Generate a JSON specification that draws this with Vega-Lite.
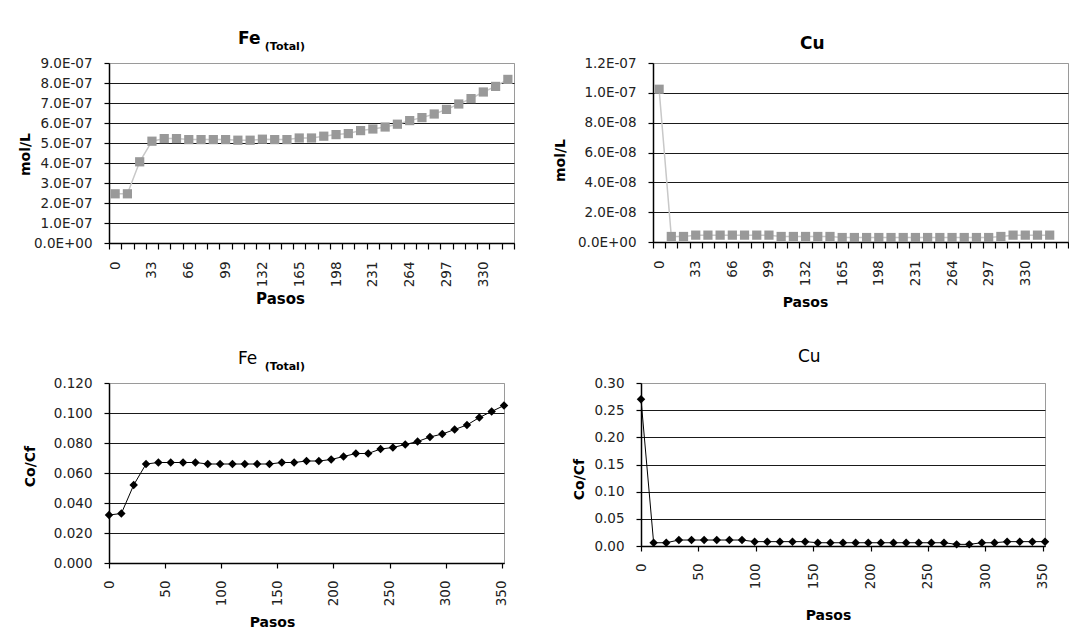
{
  "$schema": "https://vega.github.io/schema/vega-lite/v6.json",
  "padding": {"left": 17, "top": 29, "right": 0, "bottom": 0},
  "background": "white",
  "datasets": {
    "fe_mol": [
      {"paso": 0, "v": 2.46e-7}, {"paso": 11, "v": 2.46e-7}, {"paso": 22, "v": 4.06e-7}, {"paso": 33, "v": 5.09e-7},
      {"paso": 44, "v": 5.22e-7}, {"paso": 55, "v": 5.22e-7}, {"paso": 66, "v": 5.17e-7}, {"paso": 77, "v": 5.17e-7},
      {"paso": 88, "v": 5.17e-7}, {"paso": 99, "v": 5.17e-7}, {"paso": 110, "v": 5.14e-7}, {"paso": 121, "v": 5.14e-7},
      {"paso": 132, "v": 5.19e-7}, {"paso": 143, "v": 5.17e-7}, {"paso": 154, "v": 5.17e-7}, {"paso": 165, "v": 5.25e-7},
      {"paso": 176, "v": 5.25e-7}, {"paso": 187, "v": 5.34e-7}, {"paso": 198, "v": 5.42e-7}, {"paso": 209, "v": 5.47e-7},
      {"paso": 220, "v": 5.62e-7}, {"paso": 231, "v": 5.70e-7}, {"paso": 242, "v": 5.80e-7}, {"paso": 253, "v": 5.94e-7},
      {"paso": 264, "v": 6.12e-7}, {"paso": 275, "v": 6.27e-7}, {"paso": 286, "v": 6.45e-7}, {"paso": 297, "v": 6.68e-7},
      {"paso": 308, "v": 6.95e-7}, {"paso": 319, "v": 7.22e-7}, {"paso": 330, "v": 7.55e-7}, {"paso": 341, "v": 7.83e-7},
      {"paso": 352, "v": 8.18e-7}
    ],
    "cu_mol": [
      {"paso": 0, "v": 1.024e-7}, {"paso": 11, "v": 3.7e-9}, {"paso": 22, "v": 3.7e-9}, {"paso": 33, "v": 4.6e-9},
      {"paso": 44, "v": 4.6e-9}, {"paso": 55, "v": 4.6e-9}, {"paso": 66, "v": 4.6e-9}, {"paso": 77, "v": 4.6e-9},
      {"paso": 88, "v": 4.6e-9}, {"paso": 99, "v": 4.6e-9}, {"paso": 110, "v": 3.7e-9}, {"paso": 121, "v": 3.7e-9},
      {"paso": 132, "v": 3.7e-9}, {"paso": 143, "v": 3.7e-9}, {"paso": 154, "v": 3.7e-9}, {"paso": 165, "v": 3.0e-9},
      {"paso": 176, "v": 3.0e-9}, {"paso": 187, "v": 3.0e-9}, {"paso": 198, "v": 3.0e-9}, {"paso": 209, "v": 3.0e-9},
      {"paso": 220, "v": 3.0e-9}, {"paso": 231, "v": 3.0e-9}, {"paso": 242, "v": 3.0e-9}, {"paso": 253, "v": 3.0e-9},
      {"paso": 264, "v": 3.0e-9}, {"paso": 275, "v": 3.0e-9}, {"paso": 286, "v": 3.0e-9}, {"paso": 297, "v": 3.0e-9},
      {"paso": 308, "v": 3.7e-9}, {"paso": 319, "v": 4.6e-9}, {"paso": 330, "v": 4.6e-9}, {"paso": 341, "v": 4.6e-9},
      {"paso": 352, "v": 4.6e-9}
    ],
    "fe_cocf": [
      {"paso": 0, "v": 0.032}, {"paso": 11, "v": 0.033}, {"paso": 22, "v": 0.052}, {"paso": 33, "v": 0.066},
      {"paso": 44, "v": 0.067}, {"paso": 55, "v": 0.067}, {"paso": 66, "v": 0.067}, {"paso": 77, "v": 0.067},
      {"paso": 88, "v": 0.066}, {"paso": 99, "v": 0.066}, {"paso": 110, "v": 0.066}, {"paso": 121, "v": 0.066},
      {"paso": 132, "v": 0.066}, {"paso": 143, "v": 0.066}, {"paso": 154, "v": 0.067}, {"paso": 165, "v": 0.067},
      {"paso": 176, "v": 0.068}, {"paso": 187, "v": 0.068}, {"paso": 198, "v": 0.069}, {"paso": 209, "v": 0.071},
      {"paso": 220, "v": 0.073}, {"paso": 231, "v": 0.073}, {"paso": 242, "v": 0.076}, {"paso": 253, "v": 0.077},
      {"paso": 264, "v": 0.079}, {"paso": 275, "v": 0.081}, {"paso": 286, "v": 0.084}, {"paso": 297, "v": 0.086},
      {"paso": 308, "v": 0.089}, {"paso": 319, "v": 0.092}, {"paso": 330, "v": 0.097}, {"paso": 341, "v": 0.101},
      {"paso": 352, "v": 0.105}
    ],
    "cu_cocf": [
      {"paso": 0, "v": 0.27}, {"paso": 11, "v": 0.006}, {"paso": 22, "v": 0.006}, {"paso": 33, "v": 0.011},
      {"paso": 44, "v": 0.011}, {"paso": 55, "v": 0.011}, {"paso": 66, "v": 0.011}, {"paso": 77, "v": 0.011},
      {"paso": 88, "v": 0.011}, {"paso": 99, "v": 0.008}, {"paso": 110, "v": 0.008}, {"paso": 121, "v": 0.008},
      {"paso": 132, "v": 0.008}, {"paso": 143, "v": 0.008}, {"paso": 154, "v": 0.006}, {"paso": 165, "v": 0.006},
      {"paso": 176, "v": 0.006}, {"paso": 187, "v": 0.006}, {"paso": 198, "v": 0.006}, {"paso": 209, "v": 0.006},
      {"paso": 220, "v": 0.006}, {"paso": 231, "v": 0.006}, {"paso": 242, "v": 0.006}, {"paso": 253, "v": 0.006},
      {"paso": 264, "v": 0.006}, {"paso": 275, "v": 0.003}, {"paso": 286, "v": 0.003}, {"paso": 297, "v": 0.006},
      {"paso": 308, "v": 0.006}, {"paso": 319, "v": 0.008}, {"paso": 330, "v": 0.008}, {"paso": 341, "v": 0.008},
      {"paso": 352, "v": 0.008}
    ]
  },
  "config": {
    "font": "DejaVu Sans",
    "view": {"stroke": "#9a9a9a", "strokeWidth": 1},
    "axis": {
      "labelFont": "DejaVu Sans", "labelFontSize": 13.5, "labelColor": "#222222",
      "titleFont": "DejaVu Sans", "titleFontWeight": "bold", "titleColor": "#000000", "titleFontSize": 14,
      "domainColor": "#000000", "domainWidth": 1.5, "tickColor": "#000000", "tickWidth": 1.2,
      "gridColor": "#1a1a1a", "gridWidth": 1.2, "labelFlush": false, "labelOverlap": false,
      "titleBaseline": "middle", "titleAlign": "center"
    },
    "title": {"font": "DejaVu Sans", "subtitleFont": "DejaVu Sans", "color": "#000000", "subtitleColor": "#000000", "anchor": "start", "frame": "group"}
  },
  "spacing": 37,
  "vconcat": [
    {
      "columns": 2, "align": "none", "spacing": 36,
      "concat": [
        {
          "width": 405, "height": 180,
          "data": {"name": "fe_mol"},
          "title": {"text": "Fe", "subtitle": "\u200b\u00a0\u00a0\u00a0\u00a0\u00a0\u00a0\u00a0(Total)", "dx": 129, "fontSize": 17, "fontWeight": "bold", "subtitleFontSize": 11, "subtitleFontWeight": "bold", "subtitlePadding": -7, "offset": 3},
          "encoding": {
            "x": {"field": "paso", "type": "ordinal", "scale": {"type": "band", "paddingInner": 0, "paddingOuter": 0},
              "axis": {"tickBand": "extent", "labelAngle": -90, "labelExpr": "datum.value % 33 === 0 ? datum.label : ''", "tickSize": 6, "labelPadding": 12, "grid": false,
                "title": "Pasos", "titleFontSize": 15, "titleX": 171, "titleY": 55}},
            "y": {"field": "v", "type": "quantitative", "scale": {"domain": [0, 9e-7], "nice": false},
              "axis": {"values": [0, 1e-7, 2e-7, 3e-7, 4e-7, 5e-7, 6e-7, 7e-7, 8e-7, 9e-7],
                "labelExpr": "replace(replace(upper(format(datum.value, '.1e')), 'E-', 'E-0'), 'E+', 'E+0')",
                "tickSize": 5, "labelPadding": 12, "grid": true,
                "gridColor": {"condition": {"test": "datum.value > 8.5e-7", "value": "#9a9a9a"}, "value": "#1a1a1a"},
                "title": "mol/L", "titleX": -84, "titleY": 91}}
          },
          "layer": [
            {"mark": {"type": "line", "color": "#c8c8c8", "strokeWidth": 1.5}},
            {"mark": {"type": "point", "shape": "square", "filled": true, "size": 85, "color": "#999999", "opacity": 1}}
          ]
        },
        {
          "width": 415, "height": 179,
          "data": {"name": "cu_mol"},
          "title": {"text": "Cu", "dx": 147, "fontSize": 17, "fontWeight": "bold", "offset": 3},
          "encoding": {
            "x": {"field": "paso", "type": "ordinal",
              "scale": {"type": "band", "paddingInner": 0, "paddingOuter": 0, "domain": [0, 11, 22, 33, 44, 55, 66, 77, 88, 99, 110, 121, 132, 143, 154, 165, 176, 187, 198, 209, 220, 231, 242, 253, 264, 275, 286, 297, 308, 319, 330, 341, 352, 363]},
              "axis": {"tickBand": "extent", "labelAngle": -90, "labelExpr": "datum.value % 33 === 0 && datum.value < 360 ? datum.label : ''", "tickSize": 6, "labelPadding": 12, "grid": false,
                "title": "Pasos", "titleX": 152, "titleY": 60}},
            "y": {"field": "v", "type": "quantitative", "scale": {"domain": [0, 1.2e-7], "nice": false},
              "axis": {"values": [0, 2e-8, 4e-8, 6e-8, 8e-8, 1e-7, 1.2e-7],
                "labelExpr": "replace(replace(upper(format(datum.value, '.1e')), 'E-', 'E-0'), 'E+', 'E+0')",
                "tickSize": 5, "labelPadding": 12, "grid": true,
                "gridColor": {"condition": {"test": "datum.value > 1.1e-7", "value": "#9a9a9a"}, "value": "#1a1a1a"},
                "title": "mol/L", "titleX": -93, "titleY": 97}}
          },
          "layer": [
            {"mark": {"type": "line", "color": "#c8c8c8", "strokeWidth": 1.5}},
            {"mark": {"type": "point", "shape": "square", "filled": true, "size": 85, "color": "#999999", "opacity": 1}}
          ]
        }
      ]
    },
    {
      "columns": 2, "align": "none", "spacing": 62,
      "concat": [
        {
          "width": 395, "height": 180,
          "data": {"name": "fe_cocf"},
          "title": {"text": "Fe", "subtitle": "\u200b\u00a0\u00a0\u00a0\u00a0\u00a0\u00a0\u00a0(Total)", "dx": 129, "fontSize": 17, "fontWeight": "normal", "subtitleFontSize": 11, "subtitleFontWeight": "bold", "subtitlePadding": -7, "offset": 3},
          "encoding": {
            "x": {"field": "paso", "type": "quantitative", "scale": {"domain": [0, 352], "nice": false},
              "axis": {"values": [0, 50, 100, 150, 200, 250, 300, 350], "labelAngle": -90, "tickSize": 5, "labelPadding": 12, "grid": false,
                "title": "Pasos", "titleX": 163, "titleY": 59}},
            "y": {"field": "v", "type": "quantitative", "scale": {"domain": [0, 0.12], "nice": false},
              "axis": {"values": [0, 0.02, 0.04, 0.06, 0.08, 0.1, 0.12], "format": ".3f",
                "tickSize": 5, "labelPadding": 12, "grid": true,
                "gridColor": {"condition": {"test": "datum.value > 0.11", "value": "#9a9a9a"}, "value": "#1a1a1a"},
                "title": "Co/Cf", "titleX": -79, "titleY": 83}}
          },
          "layer": [
            {"mark": {"type": "line", "color": "#000000", "strokeWidth": 1}},
            {"mark": {"type": "point", "shape": "diamond", "filled": true, "size": 72, "color": "#000000", "opacity": 1}}
          ]
        },
        {
          "width": 404, "height": 163,
          "data": {"name": "cu_cocf"},
          "title": {"text": "Cu", "dx": 157, "fontSize": 17, "fontWeight": "normal", "offset": 10},
          "encoding": {
            "x": {"field": "paso", "type": "quantitative", "scale": {"domain": [0, 352], "nice": false},
              "axis": {"values": [0, 50, 100, 150, 200, 250, 300, 350], "labelAngle": -90, "tickSize": 5, "labelPadding": 12, "grid": false,
                "title": "Pasos", "titleX": 187, "titleY": 69}},
            "y": {"field": "v", "type": "quantitative", "scale": {"domain": [0, 0.3], "nice": false},
              "axis": {"values": [0, 0.05, 0.1, 0.15, 0.2, 0.25, 0.3], "format": ".2f",
                "tickSize": 5, "labelPadding": 12, "grid": true,
                "gridColor": {"condition": {"test": "datum.value > 0.29", "value": "#9a9a9a"}, "value": "#1a1a1a"},
                "title": "Co/Cf", "titleX": -62, "titleY": 96}}
          },
          "layer": [
            {"mark": {"type": "line", "color": "#000000", "strokeWidth": 1}},
            {"mark": {"type": "point", "shape": "diamond", "filled": true, "size": 72, "color": "#000000", "opacity": 1}}
          ]
        }
      ]
    }
  ]
}
